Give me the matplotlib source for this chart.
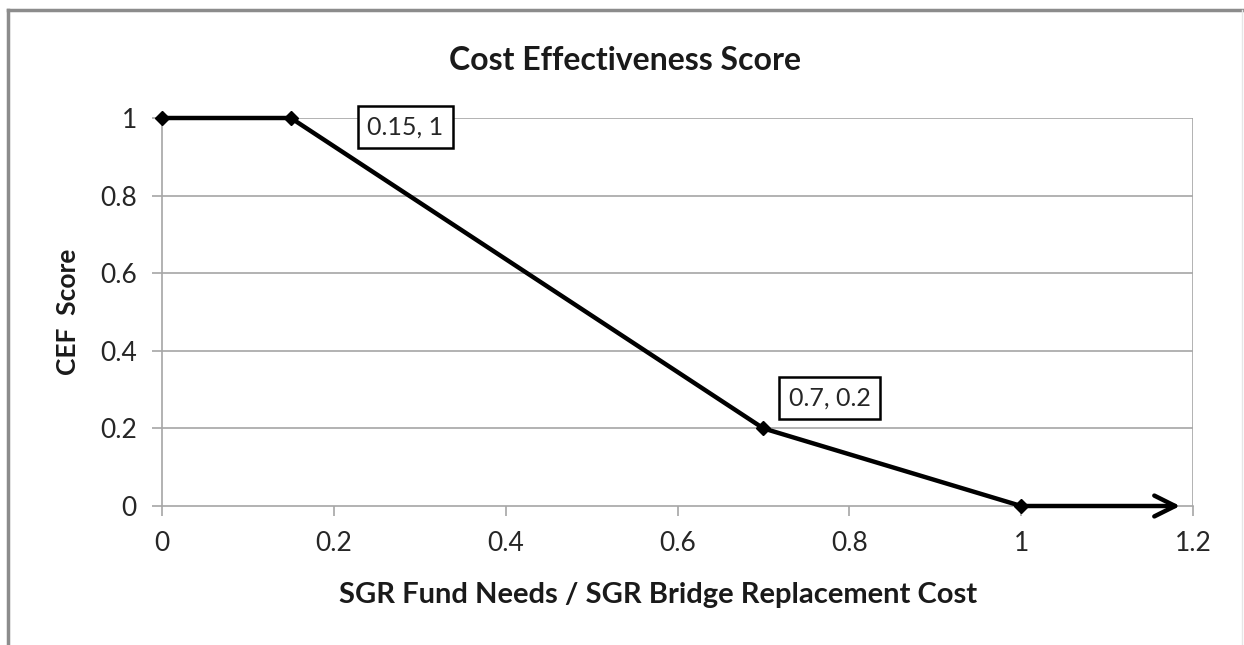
import matplotlib.pyplot as plt
from matplotlib.lines import Line2D

# data
ratio = [0, 0.15, 0.7, 1]
cef_score = [1, 1, 0.2, 0]
arrow_end = 1.185
labels = [(0.15, 1, '0.15, 1', 0.283, 0.977), (0.7, 0.2, '0.7, 0.2', 0.777, 0.278)]
xticks = [0, 0.2, 0.4, 0.6, 0.8, 1, 1.2]
yticks = [0, 0.2, 0.4, 0.6, 0.8, 1]

plt.rcParams['font.family'] = ['Lato', 'DejaVu Sans']

fig = plt.figure(figsize=(12.44, 6.45), dpi=100)
ax = fig.add_axes([162 / 1244, 1 - 506 / 645, 1031 / 1244, 388 / 645])

grid = '#a6a6a6'
for y in yticks[1:]:
    ax.axhline(y, color=grid, lw=1.2, zorder=1)
ax.axvline(1.2, color=grid, lw=1.2, zorder=1)

ax.plot(ratio, cef_score, color='black', lw=3.2, marker='D', ms=7,
        zorder=3, clip_on=False)
ax.annotate('', xy=(arrow_end, 0), xytext=(ratio[-1], 0),
            arrowprops=dict(arrowstyle='->,head_length=1.5,head_width=0.75',
                            color='black', lw=3.2, shrinkA=0, shrinkB=0),
            zorder=3)

for _, _, txt, tx, ty in labels:
    ax.text(tx, ty, txt, ha='center', va='center', fontsize=18,
            color='#262626', zorder=4,
            bbox=dict(boxstyle='square,pad=0.38', fc='white', ec='black', lw=1.8))

ax.set_xlim(0, 1.2)
ax.set_ylim(0, 1)
ax.set_xticks(xticks)
ax.set_xticklabels(['0', '0.2', '0.4', '0.6', '0.8', '1', '1.2'])
ax.set_yticks(yticks)
ax.set_yticklabels(['0', '0.2', '0.4', '0.6', '0.8', '1'])
ax.tick_params(axis='both', colors=grid, labelcolor='#262626', labelsize=19,
               length=7, width=1.2, pad=11)
for s in ['top', 'right']:
    ax.spines[s].set_visible(False)
for s in ['left', 'bottom']:
    ax.spines[s].set_color(grid)
    ax.spines[s].set_linewidth(1.2)

fig.text(625 / 1244, 1 - 60 / 645, 'Cost Effectiveness Score', ha='center',
         va='center', fontsize=23, fontweight='bold', color='#1a1a1a')
fig.text(658 / 1244, 1 - 595 / 645, 'SGR Fund Needs / SGR Bridge Replacement Cost',
         ha='center', va='center', fontsize=21, fontweight='bold', color='#1a1a1a')
fig.text(68 / 1244, 1 - 312 / 645, 'CEF  Score', ha='center', va='center',
         rotation=90, fontsize=19, fontweight='bold', color='#1a1a1a')

# outer chart frame (left, top, right)
fc = '#8c8c8c'
fig.add_artist(Line2D([8 / 1244, 8 / 1244], [0, 1 - 10 / 645], color=fc, lw=2.5))
fig.add_artist(Line2D([8 / 1244, 1242 / 1244], [1 - 10 / 645, 1 - 10 / 645], color=fc, lw=2.5))
fig.add_artist(Line2D([1242 / 1244, 1242 / 1244], [0, 1 - 10 / 645], color='#e6e6e6', lw=1))

fig.savefig('out.png', dpi=100)
